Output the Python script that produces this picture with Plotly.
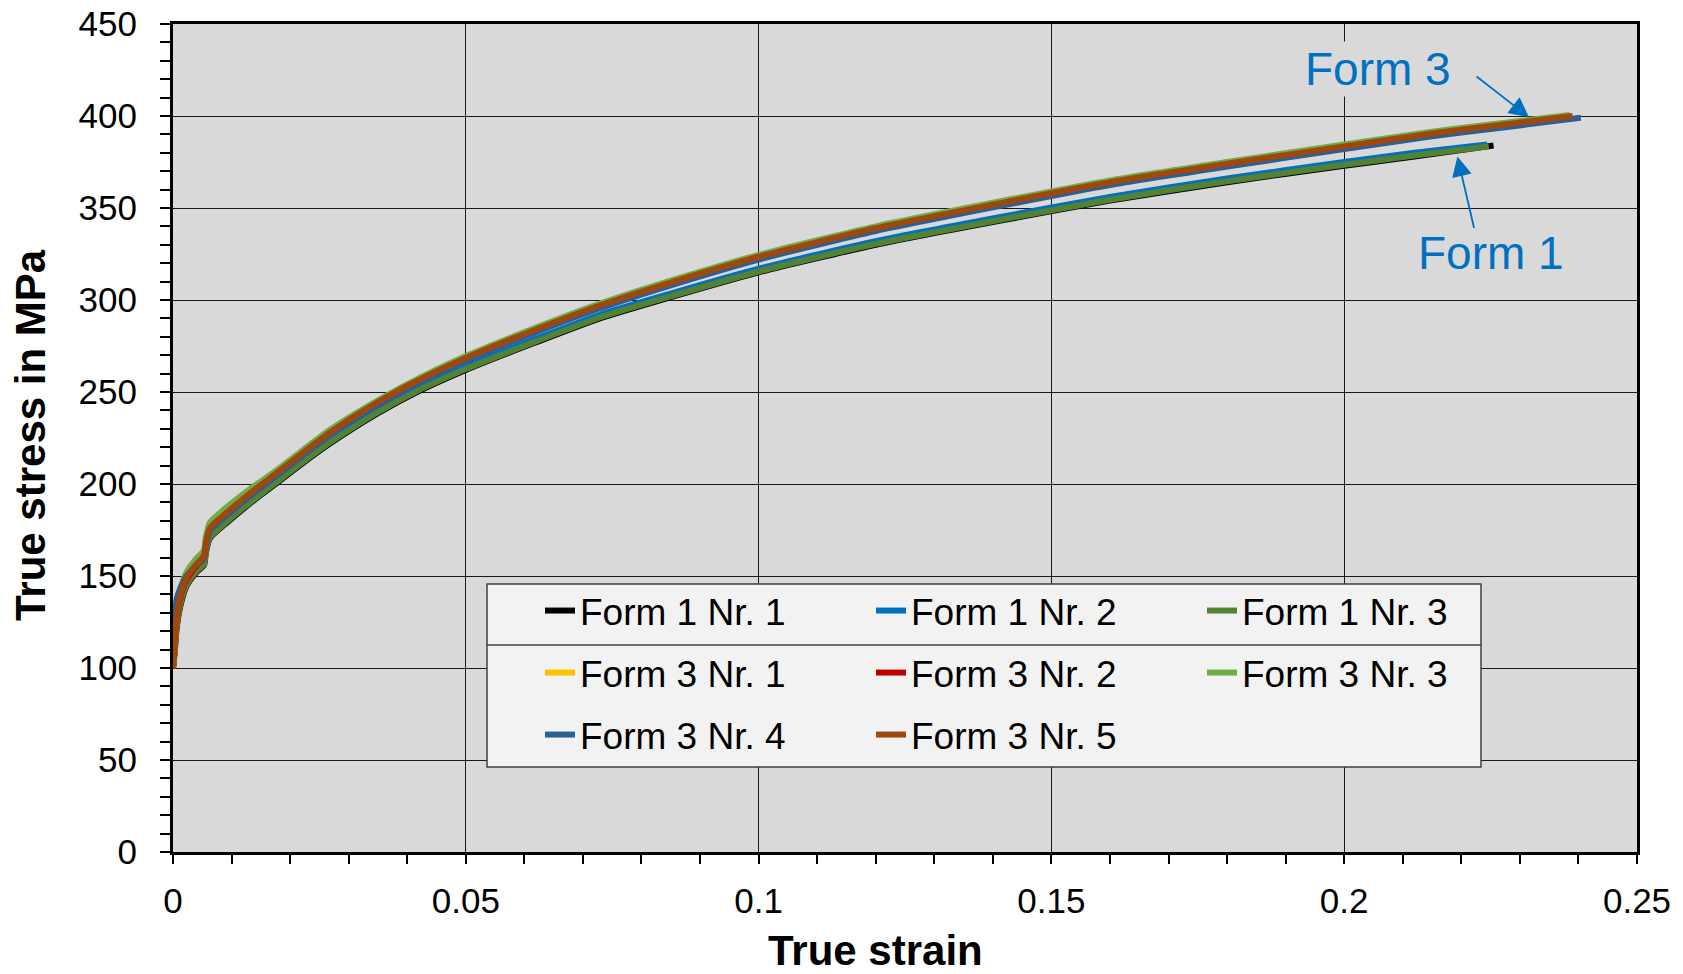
import plotly.graph_objects as go

# True strain grid shared by the specimens (the last value per series is its fracture strain)
strain_base = [0.0, 0.0003, 0.0006, 0.0012, 0.0023, 0.0040, 0.0053, 0.0056, 0.0063,
               0.0092, 0.0120, 0.0148, 0.0177, 0.0220, 0.0268, 0.0350, 0.0420, 0.0500,
               0.0620, 0.0729, 0.0850, 0.1000, 0.1200, 0.1411, 0.1600, 0.1800, 0.2000]

# Form 1 specimens
strain_f1n1 = strain_base + [0.2120, 0.2255]
strain_f1n2 = strain_base + [0.2120, 0.2244]
strain_f1n3 = strain_base + [0.2120, 0.2247]
stress_f1n1 = [100, 109, 121, 133, 144.5, 152, 156, 162.5, 170.5, 179, 186.5, 193.5, 200.5, 211,
               222, 238.5, 250.5, 262, 277, 290, 301.5, 315, 330, 343, 354, 364,
               373, 378, 384]
stress_f1n2 = [100, 112, 124, 136, 147, 154, 158, 165, 173, 181, 188.5, 195.5, 202.5, 213,
               224, 240.5, 252.5, 264, 279, 292, 303.5, 317, 332, 345, 356, 366,
               375, 380, 384.5]
stress_f1n3 = [100, 110, 122, 134, 145, 152.5, 156.5, 163, 171, 179.5, 187, 194, 201, 211.5,
               222.5, 239, 251, 262.5, 277.5, 290.5, 302, 315.5, 330.5, 343.5, 354.5, 364.5,
               373.5, 378.5, 383.5]

# Form 3 specimens
strain_f3n1 = strain_base + [0.2150, 0.2264, 0.2386]
strain_f3n2 = strain_base + [0.2150, 0.2264, 0.2388]
strain_f3n3 = strain_base + [0.2150, 0.2264, 0.2385]
strain_f3n4 = strain_base + [0.2150, 0.2264, 0.2404]
strain_f3n5 = strain_base + [0.2150, 0.2264, 0.2390]
stress_f3n1 = [100, 111.5, 125.5, 138, 148.5, 156, 160.5, 167.5, 175.5, 184, 191.5, 198.5, 205.5,
               216, 227.5, 244, 256, 268, 283.5, 296.5, 309, 323, 338.5, 352, 363.5, 373.5,
               383, 390, 394.5, 399.5]
stress_f3n2 = [100, 111, 125, 137.5, 148, 155.5, 160, 167, 175, 183.5, 191, 198, 205,
               215.5, 227, 243.5, 255.5, 267.5, 283, 296, 308.5, 322.5, 338, 351.5, 363, 373,
               382.5, 389.5, 394, 399.5]
stress_f3n3 = [100, 113, 128, 141, 152, 159.5, 164, 171, 179, 187.5, 194.5, 201, 207.5,
               218, 229.5, 245.5, 257.5, 269.5, 285, 298, 310.5, 324.5, 340, 353.5, 365, 375,
               384.5, 391.5, 396, 400.5]
stress_f3n4 = [100, 125, 137, 143, 150, 156, 160, 166.5, 174.5, 183, 190.5, 197.5, 204.5,
               215, 226.5, 243, 255, 267, 282.5, 295.5, 308, 322, 337.5, 351, 362.5, 372.5,
               382, 389, 393.5, 399]
stress_f3n5 = [100, 112, 126, 138.5, 149, 156.5, 161, 168, 176, 184.5, 192, 199, 206,
               216.5, 228, 244.5, 256.5, 268.5, 284, 297, 309.5, 323.5, 339, 352.5, 364, 374,
               383.5, 390.5, 395, 400]

strain_ticks = [0, 0.05, 0.1, 0.15, 0.2, 0.25]
strain_tick_labels = ["0", "0.05", "0.1", "0.15", "0.2", "0.25"]

series = [
    ("Form 1 Nr. 1", strain_f1n1, stress_f1n1, "#000000", "legend"),
    ("Form 1 Nr. 2", strain_f1n2, stress_f1n2, "#0070C0", "legend"),
    ("Form 1 Nr. 3", strain_f1n3, stress_f1n3, "#548235", "legend"),
    ("Form 3 Nr. 1", strain_f3n1, stress_f3n1, "#FFC000", "legend2"),
    ("Form 3 Nr. 2", strain_f3n2, stress_f3n2, "#C00000", "legend2"),
    ("Form 3 Nr. 3", strain_f3n3, stress_f3n3, "#70AD47", "legend2"),
    ("Form 3 Nr. 4", strain_f3n4, stress_f3n4, "#2A6099", "legend3"),
    ("Form 3 Nr. 5", strain_f3n5, stress_f3n5, "#9E480E", "legend3"),
]

FONT = "'Liberation Sans', Arial, sans-serif"
ANNOT_BLUE = "#0070C0"

fig = go.Figure()
for name, x, y, color, leg in series:
    fig.add_trace(go.Scatter(x=x, y=y, mode="lines", name=name, legend=leg,
                             line=dict(color=color, width=6, shape="spline", smoothing=0.6)))

# plot area: 173..1637 px horizontally, 24..852 px vertically
W, H = 1683, 974
ML, MR, MT, MB = 173, 46, 24, 122
PW, PH = W - ML - MR, H - MT - MB


def px_x(p):
    return (p - ML) / PW


def px_y(p):
    return (H - MB - p) / PH


legend_common = dict(orientation="h", xref="paper", yref="paper", xanchor="left",
                     yanchor="middle", bgcolor="rgba(0,0,0,0)", borderwidth=0,
                     entrywidth=286, entrywidthmode="pixels",
                     font=dict(family=FONT, size=37, color="black"))

fig.update_layout(
    width=W, height=H,
    margin=dict(l=ML, r=MR, t=MT, b=MB, autoexpand=False),
    paper_bgcolor="white",
    plot_bgcolor="#D9D9D9",
    font=dict(family=FONT, color="black"),
    showlegend=True,
    legend=dict(x=px_x(540), y=px_y(611), **legend_common),
    legend2=dict(x=px_x(540), y=px_y(673), **legend_common),
    legend3=dict(x=px_x(540), y=px_y(735), **legend_common),
    xaxis=dict(
        range=[0, 0.25], tickmode="array", tickvals=strain_ticks, ticktext=strain_tick_labels,
        showgrid=True, gridcolor="#1a1a1a", gridwidth=1.2, zeroline=False,
        showline=True, linecolor="black", linewidth=3, mirror=True,
        ticks="outside", ticklen=9, tickwidth=2, tickcolor="black",
        minor=dict(dtick=0.01, tick0=0, ticks="outside", ticklen=9, tickwidth=2,
                   tickcolor="black", showgrid=False),
        tickfont=dict(family=FONT, size=35, color="black"),
        ticklabelstandoff=7,
        automargin=False,
    ),
    yaxis=dict(
        range=[0, 450], tick0=0, dtick=50,
        showgrid=True, gridcolor="#1a1a1a", gridwidth=1.2, zeroline=False,
        showline=True, linecolor="black", linewidth=3, mirror=True,
        ticks="outside", ticklen=10, tickwidth=2, tickcolor="black",
        minor=dict(dtick=10, tick0=0, ticks="outside", ticklen=10, tickwidth=2,
                   tickcolor="black", showgrid=False),
        tickfont=dict(family=FONT, size=35, color="black"),
        ticklabelstandoff=16,
        automargin=False,
    ),
)

# legend frame with the separator under the Form 1 row
fig.add_shape(type="rect", xref="paper", yref="paper", layer="above",
              x0=px_x(487), x1=px_x(1481), y0=px_y(767), y1=px_y(584),
              fillcolor="#F2F2F2", line=dict(color="#404040", width=1.5))
fig.add_shape(type="line", xref="paper", yref="paper", layer="above",
              x0=px_x(487), x1=px_x(1481), y0=px_y(645), y1=px_y(645),
              line=dict(color="#404040", width=1.5))

# axis titles
fig.add_annotation(text="<b>True strain</b>", xref="paper", yref="paper",
                   x=px_x(875), y=px_y(950), showarrow=False,
                   xanchor="center", yanchor="middle",
                   font=dict(family=FONT, size=42, color="black"))
fig.add_annotation(text="<b>True stress in MPa</b>", xref="paper", yref="paper",
                   x=px_x(30), y=px_y(435), showarrow=False, textangle=-90,
                   xanchor="center", yanchor="middle",
                   font=dict(family=FONT, size=42, color="black"))

# specimen group labels with pointer arrows
fig.add_annotation(text="Form 3", x=0.2058, y=425.7, showarrow=False,
                   xanchor="center", yanchor="middle",
                   bgcolor="#D9D9D9", font=dict(family=FONT, size=46, color=ANNOT_BLUE))
fig.add_annotation(text="Form 1", x=0.2250, y=325.5, showarrow=False,
                   xanchor="center", yanchor="middle",
                   font=dict(family=FONT, size=46, color=ANNOT_BLUE))
fig.add_annotation(text="", x=0.23157, y=399.3, ax=-54, ay=-42, showarrow=True,
                   arrowhead=2, arrowsize=2.2, arrowwidth=1.8, arrowcolor=ANNOT_BLUE)
fig.add_annotation(text="", x=0.21933, y=378.0, ax=17, ay=73, showarrow=True,
                   arrowhead=2, arrowsize=2.2, arrowwidth=1.8, arrowcolor=ANNOT_BLUE)

fig.write_html("out.html")
